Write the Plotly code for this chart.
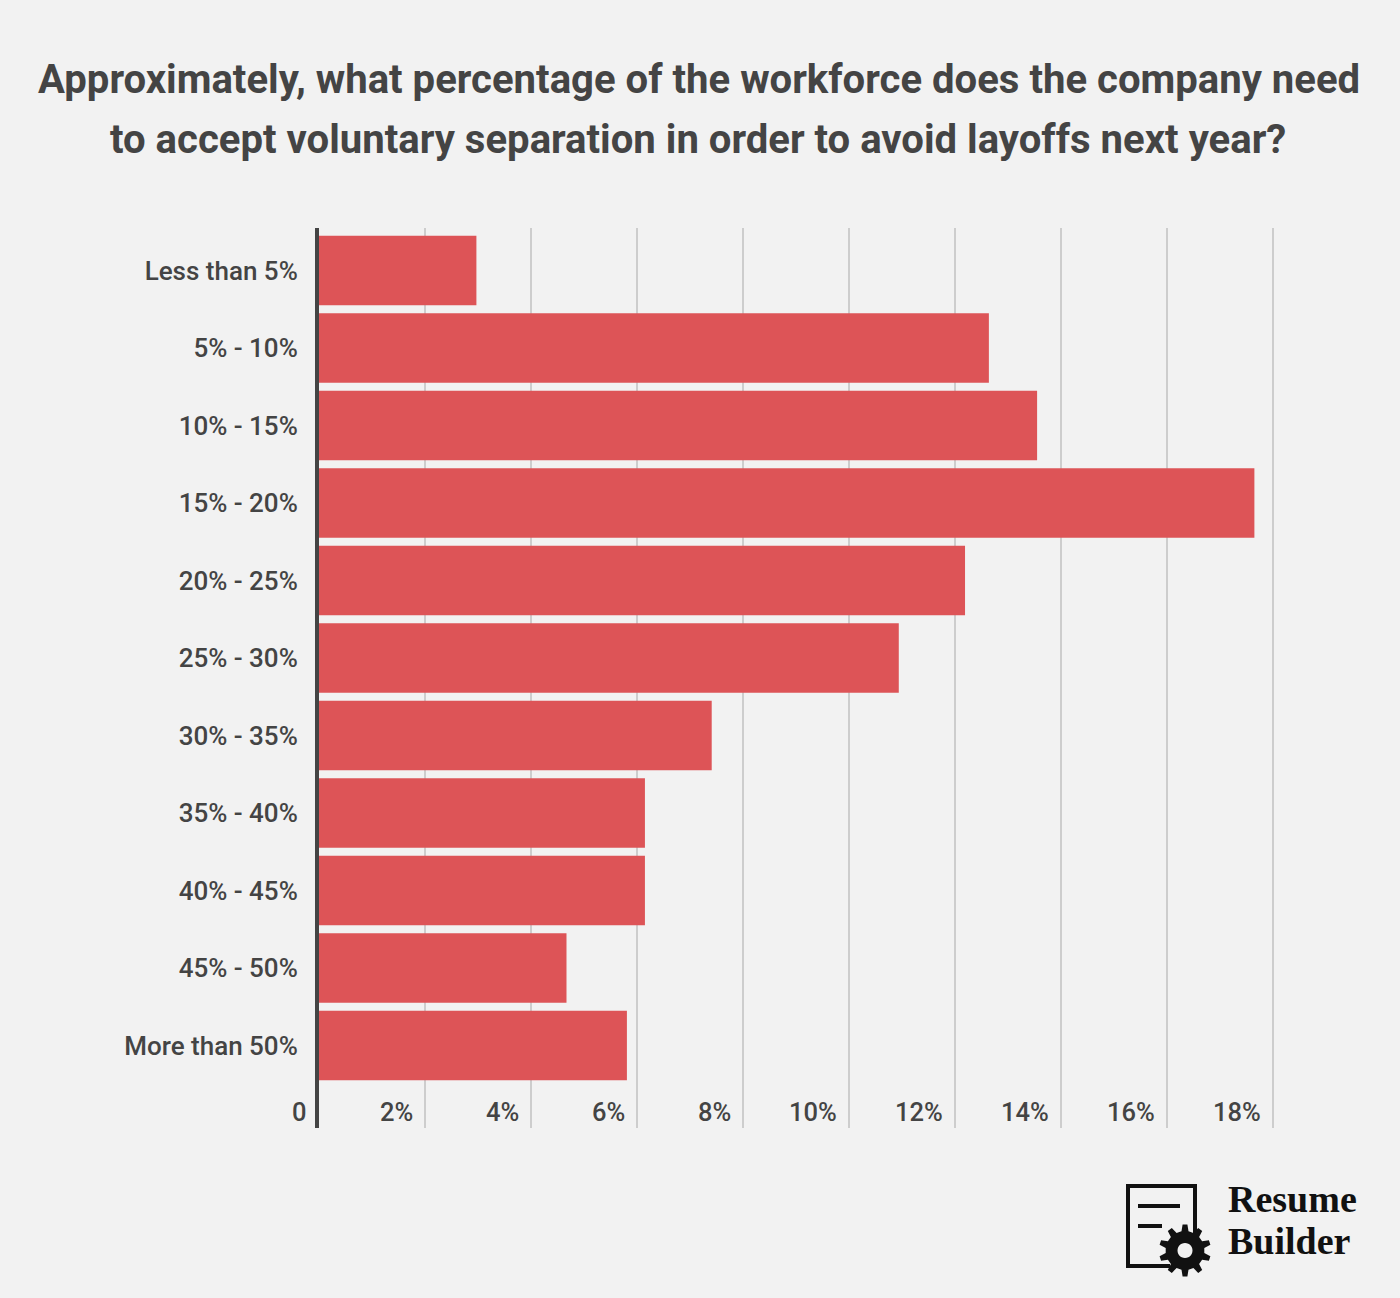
import math
import plotly.graph_objects as go

TITLE_LINES = [
    "Approximately, what percentage of the workforce does the company need",
    "to accept voluntary separation in order to avoid layoffs next year?",
]
categories = ["Less than 5%", "5% - 10%", "10% - 15%", "15% - 20%", "20% - 25%", "25% - 30%",
              "30% - 35%", "35% - 40%", "40% - 45%", "45% - 50%", "More than 50%"]
values = [2.97, 12.64, 13.55, 17.65, 12.19, 10.94, 7.41, 6.15, 6.15, 4.67, 5.81]
x_ticks = [0, 2, 4, 6, 8, 10, 12, 14, 16, 18]
x_tick_labels = ["0", "2%", "4%", "6%", "8%", "10%", "12%", "14%", "16%", "18%"]

WIDTH, HEIGHT = 1400, 1298
PLOT_L, PLOT_R, PLOT_T, PLOT_B = 319, 1274, 228, 1128
INK = "#444444"
LOGO_INK = "#111111"
BG = "#f2f2f2"
FONT = "Roboto"


def px(x):
    """Page pixel column as a paper fraction (paper spans the plot area)."""
    return (x - PLOT_L) / (PLOT_R - PLOT_L)


def py(y):
    """Page pixel row as a paper fraction (paper spans the plot area)."""
    return (PLOT_B - y) / (PLOT_B - PLOT_T)


def gear_path(r_out, r_root, r_hole, teeth=10, hole_sides=28):
    """Closed SVG path of a cog with a round hole, in pixels around its anchor."""
    pts = []
    step = 2 * math.pi / teeth
    for i in range(teeth):
        a = i * step - math.pi / 2
        for da, r in ((-0.29, r_root), (-0.15, r_out), (0.15, r_out), (0.29, r_root)):
            pts.append((r * math.cos(a + da * step), r * math.sin(a + da * step)))
    d = "M" + " L".join(f"{x:.1f},{y:.1f}" for x, y in pts) + " Z"
    # The hole runs the opposite way round so that it stays unfilled.
    hole = [(r_hole * math.cos(-k * 2 * math.pi / hole_sides),
             r_hole * math.sin(-k * 2 * math.pi / hole_sides)) for k in range(hole_sides)]
    d += " M" + " L".join(f"{x:.1f},{y:.1f}" for x, y in hole) + " Z"
    return d


def paper_rect(x0, y0, x1, y1, fill):
    return dict(type="rect", xref="paper", yref="paper", layer="above",
                x0=px(x0), x1=px(x1), y0=py(y0), y1=py(y1),
                fillcolor=fill, line=dict(width=0))


def page_text(text, x, y, size, weight, color, family=FONT, anchor="center"):
    return dict(text=text, xref="paper", yref="paper", x=px(x), y=py(y),
                xanchor=anchor, yanchor="middle", showarrow=False,
                font=dict(family=family, size=size, weight=weight, color=color))


fig = go.Figure(go.Bar(
    x=values, y=categories, orientation="h", width=0.897,
    marker=dict(color="#dd5457", line=dict(width=0)),
))

# Document outline and text lines of the logo, then its cog on top.
logo_shapes = [
    paper_rect(1126, 1184, 1197, 1188, LOGO_INK),
    paper_rect(1126, 1184, 1130, 1268, LOGO_INK),
    paper_rect(1126, 1264, 1170, 1268, LOGO_INK),
    paper_rect(1193, 1184, 1197, 1235, LOGO_INK),
    paper_rect(1138, 1204, 1180, 1208, LOGO_INK),
    paper_rect(1138, 1224, 1162, 1228, LOGO_INK),
]
gear = dict(type="path", xref="paper", yref="paper", xsizemode="pixel", ysizemode="pixel",
            xanchor=px(1185), yanchor=py(1250.5), layer="above",
            path=gear_path(26, 19.5, 7.5), fillcolor=LOGO_INK, fillrule="evenodd",
            line=dict(width=0))

# Value labels sit to the left of their gridline, just above the axis end.
tick_annotations = [
    dict(text=label, x=tick, xref="x", y=py(1112), yref="paper",
         xanchor="right", yanchor="middle", xshift=-10, showarrow=False,
         font=dict(family=FONT, size=25.5, weight=500, color=INK))
    for tick, label in zip(x_ticks, x_tick_labels)
]

fig.update_layout(
    width=WIDTH, height=HEIGHT,
    margin=dict(l=PLOT_L, r=WIDTH - PLOT_R, t=PLOT_T, b=HEIGHT - PLOT_B, pad=0),
    paper_bgcolor=BG, plot_bgcolor=BG,
    font=dict(family=FONT, color=INK),
    showlegend=False,
    shapes=logo_shapes + [gear],
    xaxis=dict(
        range=[0, 18.02], tickvals=x_ticks, showticklabels=False, ticks="",
        showgrid=True, gridcolor="#cdcdcd", gridwidth=2,
        zeroline=False, showline=False,
    ),
    yaxis=dict(
        type="category", categoryorder="array", categoryarray=categories,
        range=[11.065, -0.548], showgrid=False, zeroline=False,
        showline=True, linecolor=INK, linewidth=4, ticks="",
        ticklabelstandoff=12,
        tickfont=dict(family=FONT, size=26, weight=500, color=INK),
    ),
    annotations=tick_annotations + [
        page_text(TITLE_LINES[0], 699, 79, 40.1, 700, INK),
        page_text(TITLE_LINES[1], 698, 139, 40.1, 700, INK),
        page_text("Resume", 1226, 1199, 38, 700, LOGO_INK, "Liberation Serif", "left"),
        page_text("Builder", 1226, 1241, 38, 700, LOGO_INK, "Liberation Serif", "left"),
    ],
)

fig.write_html("out.html", config=dict(displayModeBar=False))
